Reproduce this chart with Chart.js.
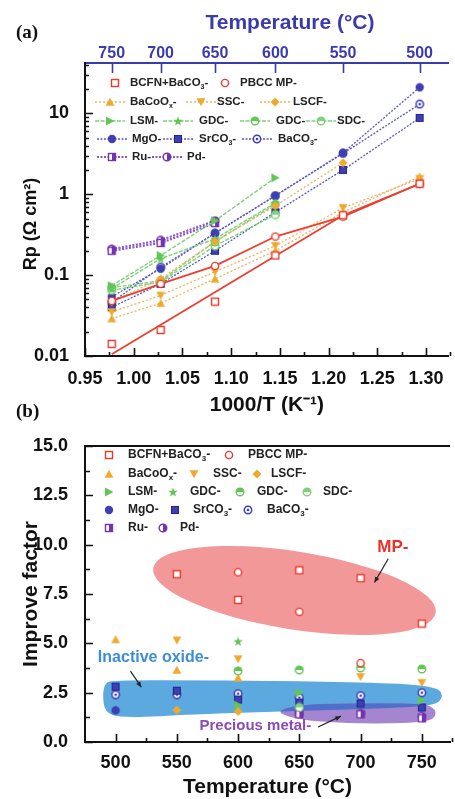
<!DOCTYPE html>
<html><head><meta charset="utf-8">
<script src="https://cdn.jsdelivr.net/npm/chart.js@4.4.0/dist/chart.umd.min.js"></script>
<style>
html,body{margin:0;padding:0;background:#fff;width:455px;height:799px;overflow:hidden;}
#wrap{position:relative;width:455px;height:799px;}
canvas{position:absolute;left:0;}
#ca{top:0;} #cb{top:420px;}
.lab{position:absolute;font-family:"Liberation Serif","DejaVu Serif",serif;font-weight:bold;font-size:19px;color:#111;}
</style></head><body>
<div id="wrap">
<canvas id="ca" width="455" height="420"></canvas>
<canvas id="cb" width="455" height="379"></canvas>
<div class="lab" style="left:16px;top:21px">(a)</div>
<div class="lab" style="left:16px;top:400px">(b)</div>
</div>
<script>
// ---------- DATA (a) : Rp vs 1000/T ----------
const tempC = [750, 700, 650, 600, 550, 500];
const invT  = [0.9774, 1.0276, 1.0834, 1.1453, 1.2148, 1.2934];
const xTickLabelsA = [0.95, 1.00, 1.05, 1.10, 1.15, 1.20, 1.25, 1.30];
const yTickLabelsA = [0.01, 0.1, 1, 10];

const rpBCFN   = [0.0141, 0.021, 0.047, 0.175, 0.55, 1.35];
const bcfnLineX = [0.9774, 1.2148, 1.2934];
const bcfnLineY = [0.0105, 0.55, 1.35];
const rpPBCC   = [0.048, 0.078, 0.13, 0.30, 0.53, 1.35];
const rpBaCoOx = [0.029, 0.045, 0.09, 0.20, 0.60, 1.65];
const rpSSC    = [0.035, 0.056, 0.11, 0.23, 0.68, 1.55];
const rpLSCF   = [0.047, 0.09, 0.26, 0.72, 2.45, null];
const rpLSM    = [0.074, 0.175, 0.47, 1.6, null, null];
const rpGDC1   = [0.068, 0.16, 0.28, 0.78, null, null];
const rpGDC2   = [0.070, 0.085, 0.26, 0.75, null, null];
const rpSDC    = [0.065, 0.082, 0.23, 0.56, null, null];
const rpMgO    = [0.054, 0.12, 0.33, 0.96, 3.25, 21];
const rpSrCO3  = [0.040, 0.078, 0.20, 0.60, 2.0, 8.8];
const rpBaCO3  = [0.046, 0.125, 0.33, 0.96, 3.2, 13];
const rpRu     = [0.20, 0.25, 0.44, null, null, null];
const rpPd     = [0.21, 0.27, 0.47, null, null, null];

// ---------- DATA (b) : Improve factor vs T ----------
const tempB = [500, 550, 600, 650, 700, 750];
const yTickLabelsB = [0, 2.5, 5, 7.5, 10, 12.5, 15];
const ifBCFN   = [null, 8.5, 7.2, 8.7, 8.3, 6.0];
const ifPBCC   = [null, null, 8.6, 6.6, 4.0, null];
const ifBaCoOx = [5.2, 3.65, 3.25, null, null, null];
const ifSSC    = [null, 5.15, 4.2, null, 3.3, 3.0];
const ifLSCF   = [null, 1.62, 1.55, null, null, null];
const ifLSM    = [null, null, 1.87, 2.5, null, 2.1];
const ifGDC1   = [null, null, 5.1, null, null, null];
const ifGDC2   = [null, null, 3.6, 3.65, 3.75, 3.7];
const ifSDC    = [null, null, null, 1.75, null, null];
const ifMgO    = [1.6, null, null, null, null, null];
const ifSrCO3  = [2.8, 2.6, 2.15, 2.0, 1.95, 1.75];
const ifBaCO3  = [2.4, 2.4, 2.45, 2.25, 2.35, 2.5];
const ifRu     = [null, null, null, 1.4, 1.4, 1.2];
const ifPd     = [null, null, null, 1.45, 1.45, 1.3];

// ---------- STYLE ----------
const FONT = '"Liberation Sans", Arial, Helvetica, sans-serif';
const BLUE_AX = '#3b3bae';
const RED = '#e8392b', OR = '#eeaa2e', GR = '#62c656', GR2 = '#7fd27a', BL = '#3e3eb5', PU = '#7434b0';

function mk(type, color) {
  const s = 10, c = document.createElement('canvas');
  c.width = s; c.height = s;
  const g = c.getContext('2d');
  g.fillStyle = color; g.strokeStyle = color; g.lineWidth = 1.4;
  const m = s / 2;
  const poly = pts => { g.beginPath(); g.moveTo(pts[0][0], pts[0][1]); pts.slice(1).forEach(p => g.lineTo(p[0], p[1])); g.closePath(); g.fill(); };
  switch (type) {
    case 'sqOpen': g.fillStyle = '#fff'; g.fillRect(1.5, 1.5, 7, 7); g.strokeRect(1.5, 1.5, 7, 7); break;
    case 'cirOpen': g.fillStyle = '#fff'; g.beginPath(); g.arc(m, m, 3.6, 0, 2 * Math.PI); g.fill(); g.stroke(); break;
    case 'triUp': poly([[5, 0.8], [9.4, 8.8], [0.6, 8.8]]); break;
    case 'triDown': poly([[0.6, 1.2], [9.4, 1.2], [5, 9.2]]); break;
    case 'diamond': poly([[5, 0.5], [9.5, 5], [5, 9.5], [0.5, 5]]); break;
    case 'triRight': poly([[1, 0.6], [9.4, 5], [1, 9.4]]); break;
    case 'star': {
      const pts = [];
      for (let i = 0; i < 10; i++) {
        const r = i % 2 ? 2.1 : 5, a = -Math.PI / 2 + i * Math.PI / 5;
        pts.push([m + r * Math.cos(a), m + 0.4 + r * Math.sin(a)]);
      }
      poly(pts); break;
    }
    case 'halfTop':
      g.fillStyle = '#fff'; g.beginPath(); g.arc(m, m, 3.8, 0, 2 * Math.PI); g.fill();
      g.fillStyle = color; g.beginPath(); g.arc(m, m, 3.8, Math.PI, 2 * Math.PI); g.closePath(); g.fill();
      g.beginPath(); g.arc(m, m, 3.8, 0, 2 * Math.PI); g.stroke(); break;
    case 'cirFill': g.beginPath(); g.arc(m, m, 4.2, 0, 2 * Math.PI); g.fill(); break;
    case 'sqFill': g.fillRect(1, 1, 8, 8); g.strokeStyle = '#25258a'; g.lineWidth = 1; g.strokeRect(1.5, 1.5, 7, 7); break;
    case 'cirDot':
      g.fillStyle = '#fff'; g.beginPath(); g.arc(m, m, 3.7, 0, 2 * Math.PI); g.fill(); g.lineWidth = 1.5; g.stroke();
      g.fillStyle = color; g.beginPath(); g.arc(m, m, 1.3, 0, 2 * Math.PI); g.fill(); break;
    case 'sqHalf':
      g.fillStyle = '#fff'; g.fillRect(1.5, 1.5, 7, 7); g.fillStyle = color; g.fillRect(5, 1.5, 3.5, 7); g.strokeRect(1.5, 1.5, 7, 7); break;
    case 'cirHalf':
      g.fillStyle = '#fff'; g.beginPath(); g.arc(m, m, 3.8, 0, 2 * Math.PI); g.fill();
      g.fillStyle = color; g.beginPath(); g.arc(m, m, 3.8, -Math.PI / 2, Math.PI / 2); g.closePath(); g.fill();
      g.beginPath(); g.arc(m, m, 3.8, 0, 2 * Math.PI); g.stroke(); break;
  }
  return c;
}
const MK = {
  bcfn: mk('sqOpen', RED), pbcc: mk('cirOpen', RED),
  bacoox: mk('triUp', OR), ssc: mk('triDown', OR), lscf: mk('diamond', OR),
  lsm: mk('triRight', GR), gdc1: mk('star', GR), gdc2: mk('halfTop', GR), sdc: mk('halfTop', GR2),
  mgo: mk('cirFill', BL), srco3: mk('sqFill', BL), baco3: mk('cirDot', BL),
  ru: mk('sqHalf', PU), pd: mk('cirHalf', PU)
};
const LN = {
  red: {c: '#ec3f2f', d: [], w: 1.8},
  or: {c: '#f3b060', d: [2, 2], w: 1.3},
  gr: {c: '#80d07a', d: [4, 1.5], w: 1.4},
  bl: {c: '#5656c6', d: [2, 1.5], w: 1.3},
  pu: {c: '#8a55c8', d: [2, 1.5], w: 2.2}
};

function dsA(vals, mkKey, ln, xs) {
  xs = xs || invT;
  return {
    data: xs.map((x, i) => ({x: x, y: vals[i]})),
    pointStyle: mkKey ? MK[mkKey] : false, pointRadius: mkKey ? 4 : 0,
    showLine: !!ln, borderColor: ln ? LN[ln].c : 'transparent', borderDash: ln ? LN[ln].d : [],
    borderWidth: ln ? LN[ln].w : 0, fill: false, tension: 0, spanGaps: false
  };
}
function dsB(vals, mkKey) {
  return {data: tempB.map((x, i) => ({x: x, y: vals[i]})), pointStyle: MK[mkKey], pointRadius: 4, showLine: false};
}

function richText(ctx, str, x, y, size, color) {
  ctx.fillStyle = color || '#222'; ctx.textBaseline = 'middle'; ctx.textAlign = 'left';
  let cx = x;
  str.split(/(_.)/).forEach(p => {
    if (!p) return;
    if (p[0] === '_') {
      ctx.font = `bold ${Math.round(size * 0.65)}px ${FONT}`;
      ctx.fillText(p[1], cx, y + size * 0.32); cx += ctx.measureText(p[1]).width;
    } else {
      ctx.font = `bold ${size}px ${FONT}`;
      ctx.fillText(p, cx, y); cx += ctx.measureText(p).width;
    }
  });
}
function drawLegend(ctx, items, rows, size, lineHalf) {
  items.forEach(it => {
    const y = rows[it.r];
    if (it.ln) {
      const L = LN[it.ln];
      ctx.save(); ctx.strokeStyle = L.c; ctx.lineWidth = L.w; ctx.setLineDash(L.d);
      ctx.beginPath(); ctx.moveTo(it.mx - lineHalf, y); ctx.lineTo(it.mx + lineHalf, y); ctx.stroke(); ctx.restore();
    }
    const img = MK[it.m];
    ctx.drawImage(img, it.mx - img.width / 2, y - img.height / 2);
    richText(ctx, it.t, it.tx, y, size);
  });
}
function inTicks(chart, id, values, len, color) {
  const s = chart.scales[id], a = chart.chartArea, ctx = chart.ctx;
  ctx.save(); ctx.strokeStyle = color; ctx.lineWidth = 1.6; ctx.beginPath();
  values.forEach(v => {
    const p = Math.round(s.getPixelForValue(v)) + 0.5;
    if (s.axis === 'x') {
      if (s.position === 'top') { ctx.moveTo(p, a.top); ctx.lineTo(p, a.top + len); }
      else { ctx.moveTo(p, a.bottom); ctx.lineTo(p, a.bottom - len); }
    } else { ctx.moveTo(a.left, p); ctx.lineTo(a.left + len, p); }
  });
  ctx.stroke(); ctx.restore();
}

// ---------- CHART (a) ----------
const xMinorA = []; for (let v = 0.975; v < 1.33; v += 0.05) xMinorA.push(+v.toFixed(3));
const yMinorA = []; [0.01, 0.1, 1, 10].forEach(d => { for (let k = 2; k <= 9; k++) if (d * k < 42) yMinorA.push(d * k); });

const legA = [
  {t: 'BCFN+BaCO_3-', m: 'bcfn', mx: 115, tx: 130, r: 0},
  {t: 'PBCC MP-', m: 'pbcc', mx: 225, tx: 240, r: 0},
  {t: 'BaCoO_x-', m: 'bacoox', ln: 'or', mx: 110, tx: 130, r: 1},
  {t: 'SSC-', m: 'ssc', ln: 'or', mx: 201, tx: 217, r: 1},
  {t: 'LSCF-', m: 'lscf', ln: 'or', mx: 275, tx: 293, r: 1},
  {t: 'LSM-', m: 'lsm', ln: 'gr', mx: 110, tx: 130, r: 2},
  {t: 'GDC-', m: 'gdc1', ln: 'gr', mx: 178, tx: 199, r: 2},
  {t: 'GDC-', m: 'gdc2', ln: 'gr', mx: 255, tx: 276, r: 2},
  {t: 'SDC-', m: 'sdc', ln: 'gr', mx: 321, tx: 337, r: 2},
  {t: 'MgO-', m: 'mgo', ln: 'bl', mx: 112, tx: 132, r: 3},
  {t: 'SrCO_3-', m: 'srco3', ln: 'bl', mx: 178, tx: 199, r: 3},
  {t: 'BaCO_3-', m: 'baco3', ln: 'bl', mx: 257, tx: 278, r: 3},
  {t: 'Ru-', m: 'ru', ln: 'pu', mx: 112, tx: 132, r: 4},
  {t: 'Pd-', m: 'pd', ln: 'pu', mx: 167, tx: 187, r: 4}
];
const rowsA = [83, 102, 121, 139, 157];

const plugA = {
  id: 'plugA',
  afterDraw(chart) {
    const ctx = chart.ctx;
    inTicks(chart, 'x', xTickLabelsA, 8, '#111');
    inTicks(chart, 'x', xMinorA, 4, '#111');
    inTicks(chart, 'y', yTickLabelsA, 8, '#111');
    inTicks(chart, 'y', yMinorA, 4, '#111');
    inTicks(chart, 'x2', invT, 10, BLUE_AX);
    ctx.save();
    ctx.fillStyle = BLUE_AX; ctx.font = `bold 21px ${FONT}`; ctx.textAlign = 'center'; ctx.textBaseline = 'middle';
    ctx.fillText('Temperature (°C)', 290, 23);
    ctx.fillStyle = '#111'; ctx.font = `bold 18px ${FONT}`;
    ctx.translate(31, 224); ctx.rotate(-Math.PI / 2); ctx.fillText('Rp (Ω cm²)', 0, 0);
    ctx.restore();
    drawLegend(ctx, legA, rowsA, 11.5, 15);
  }
};

const fontTick = s => ({family: FONT, weight: 'bold', size: s});
new Chart(document.getElementById('ca'), {
  type: 'line',
  data: {datasets: [
    dsA(rpBCFN, 'bcfn', null),
    dsA(bcfnLineY, null, 'red', bcfnLineX),
    dsA(rpPBCC, 'pbcc', 'red'),
    dsA(rpBaCoOx, 'bacoox', 'or'),
    dsA(rpSSC, 'ssc', 'or'),
    dsA(rpLSCF, 'lscf', 'or'),
    dsA(rpLSM, 'lsm', 'gr'),
    dsA(rpGDC1, 'gdc1', 'gr'),
    dsA(rpGDC2, 'gdc2', 'gr'),
    dsA(rpSDC, 'sdc', 'gr'),
    dsA(rpMgO, 'mgo', 'bl'),
    dsA(rpSrCO3, 'srco3', 'bl'),
    dsA(rpBaCO3, 'baco3', 'bl'),
    dsA(rpRu, 'ru', 'pu'),
    dsA(rpPd, 'pd', 'pu')
  ]},
  options: {
    responsive: false, animation: false, events: [],
    layout: {padding: 0},
    plugins: {legend: {display: false}, tooltip: {enabled: false}},
    scales: {
      x: {type: 'linear', position: 'bottom', min: 0.95, max: 1.3233,
        grid: {display: false}, border: {display: true, color: '#111', width: 2},
        afterFit: s => { s.height = 64; },
        afterBuildTicks: s => { s.ticks = xTickLabelsA.map(v => ({value: v})); },
        ticks: {autoSkip: false, maxRotation: 0, padding: 4, color: '#111', font: fontTick(18), callback: v => v.toFixed(2)},
        title: {display: true, text: '1000/T (K⁻¹)', color: '#111', font: fontTick(21), padding: {top: 0, bottom: 2}}},
      x2: {type: 'linear', position: 'top', min: 0.95, max: 1.3233,
        grid: {display: false}, border: {display: true, color: BLUE_AX, width: 2},
        afterFit: s => { s.height = 63; },
        afterBuildTicks: s => { s.ticks = invT.map(v => ({value: v})); },
        ticks: {autoSkip: false, maxRotation: 0, padding: -8, color: BLUE_AX, font: fontTick(16), callback: (v, i) => String(tempC[i])}},
      y: {type: 'logarithmic', min: 0.01, max: 42,
        grid: {display: false}, border: {display: true, color: '#111', width: 2},
        afterFit: s => { s.width = 85; },
        afterBuildTicks: s => { s.ticks = yTickLabelsA.map(v => ({value: v})); },
        ticks: {autoSkip: false, padding: 8, color: '#111', font: fontTick(18), callback: v => String(v)}}
    }
  },
  plugins: [plugA]
});

// ---------- CHART (b) ----------
const xMajorB = [500, 550, 600, 650, 700, 750];
const xMinorB = [525, 575, 625, 675, 725, 775];
const yMinorB = [1.25, 3.75, 6.25, 8.75, 11.25, 13.75];

const legB = [
  {t: 'BCFN+BaCO_3-', m: 'bcfn', mx: 109, tx: 128, r: 0},
  {t: 'PBCC MP-', m: 'pbcc', mx: 229, tx: 248, r: 0},
  {t: 'BaCoO_x-', m: 'bacoox', mx: 109, tx: 128, r: 1},
  {t: 'SSC-', m: 'ssc', mx: 194, tx: 213, r: 1},
  {t: 'LSCF-', m: 'lscf', mx: 257, tx: 271, r: 1},
  {t: 'LSM-', m: 'lsm', mx: 109, tx: 128, r: 2},
  {t: 'GDC-', m: 'gdc1', mx: 173, tx: 190, r: 2},
  {t: 'GDC-', m: 'gdc2', mx: 240, tx: 257, r: 2},
  {t: 'SDC-', m: 'sdc', mx: 307, tx: 323, r: 2},
  {t: 'MgO-', m: 'mgo', mx: 109, tx: 128, r: 3},
  {t: 'SrCO_3-', m: 'srco3', mx: 175, tx: 193, r: 3},
  {t: 'BaCO_3-', m: 'baco3', mx: 248, tx: 267, r: 3},
  {t: 'Ru-', m: 'ru', mx: 109, tx: 128, r: 4},
  {t: 'Pd-', m: 'pd', mx: 163, tx: 180, r: 4}
];
const rowsB = [35, 54, 72, 90, 108];

// annotation regions, in data units (T, factor)
const blueRegion = [[496,3.13],[568.5,3.13],[649,3.08],[730,2.98],[762,2.78],[767.7,2.37],[762,1.87],[730,1.72],[649,1.57],[568.5,1.41],[504,1.21],[491,1.52],[489.5,2.37],[491,2.93]];
const purpleRegion = [[631.5,1.57],[649,1.87],[689.5,1.97],[746,1.97],[759.7,1.77],[762,1.36],[755.6,1.01],[713.7,0.91],[665.3,1.01],[641,1.26]];
const redEllipse = {t: 646, v: 7.68, rx: 143, ry: 39, rot: 9};

function smoothPath(ctx, pts) {
  const n = pts.length;
  const mid = (a, b) => [(a[0] + b[0]) / 2, (a[1] + b[1]) / 2];
  let m0 = mid(pts[n - 1], pts[0]);
  ctx.beginPath(); ctx.moveTo(m0[0], m0[1]);
  for (let i = 0; i < n; i++) {
    const p = pts[i], m = mid(p, pts[(i + 1) % n]);
    ctx.quadraticCurveTo(p[0], p[1], m[0], m[1]);
  }
  ctx.closePath();
}
function arrow(ctx, x1, y1, x2, y2) {
  ctx.save(); ctx.strokeStyle = '#222'; ctx.fillStyle = '#222'; ctx.lineWidth = 1.2;
  ctx.beginPath(); ctx.moveTo(x1, y1); ctx.lineTo(x2, y2); ctx.stroke();
  const a = Math.atan2(y2 - y1, x2 - x1), L = 6;
  ctx.beginPath(); ctx.moveTo(x2, y2);
  ctx.lineTo(x2 - L * Math.cos(a - 0.4), y2 - L * Math.sin(a - 0.4));
  ctx.lineTo(x2 - L * Math.cos(a + 0.4), y2 - L * Math.sin(a + 0.4));
  ctx.closePath(); ctx.fill(); ctx.restore();
}

const plugB = {
  id: 'plugB',
  beforeDatasetsDraw(chart) {
    const ctx = chart.ctx, sx = chart.scales.x, sy = chart.scales.y;
    const P = p => [sx.getPixelForValue(p[0]), sy.getPixelForValue(p[1])];
    ctx.save();
    ctx.fillStyle = 'rgba(236,88,88,0.62)';
    ctx.beginPath();
    ctx.ellipse(sx.getPixelForValue(redEllipse.t), sy.getPixelForValue(redEllipse.v), redEllipse.rx, redEllipse.ry, redEllipse.rot * Math.PI / 180, 0, 2 * Math.PI);
    ctx.fill();
    const bp = blueRegion.map(P), pp = purpleRegion.map(P);
    ctx.fillStyle = '#5ba9df'; smoothPath(ctx, bp); ctx.fill();
    ctx.fillStyle = '#a585cf'; smoothPath(ctx, pp); ctx.fill();
    ctx.save(); smoothPath(ctx, bp); ctx.clip();
    ctx.fillStyle = '#4f6fca'; smoothPath(ctx, pp); ctx.fill(); ctx.restore();
    const txt = (s, p, color, size) => { const q = P(p); ctx.fillStyle = color; ctx.font = `bold ${size}px ${FONT}`; ctx.textAlign = 'left'; ctx.textBaseline = 'middle'; ctx.fillText(s, q[0], q[1]); };
    txt('MP-', [713.7, 9.85], '#e8322a', 17);
    txt('Inactive oxide-', [485.5, 4.29], '#3d8ed6', 16);
    txt('Precious metal-', [568.5, 0.81], '#8a4bb5', 15);
    const ar = (a, b) => { const p = P(a), q = P(b); arrow(ctx, p[0], p[1], q[0], q[1]); };
    ar([722.6, 9.29], [711.3, 8.08]);
    ar([512.1, 3.59], [521, 2.78]);
    ar([665.3, 0.76], [683.9, 1.31]);
    ctx.restore();
  },
  afterDraw(chart) {
    const ctx = chart.ctx, a = chart.chartArea;
    inTicks(chart, 'x', xMajorB, 8, '#111');
    inTicks(chart, 'x', xMinorB, 4, '#111');
    inTicks(chart, 'y', yTickLabelsB, 8, '#111');
    inTicks(chart, 'y', yMinorB, 5, '#111');
    ctx.save(); ctx.strokeStyle = '#111'; ctx.lineWidth = 2;
    ctx.beginPath(); ctx.moveTo(a.left - 1, a.top); ctx.lineTo(a.right, a.top); ctx.stroke(); ctx.restore();
    drawLegend(ctx, legB, rowsB, 12, 0);
  }
};

new Chart(document.getElementById('cb'), {
  type: 'scatter',
  data: {datasets: [
    dsB(ifBCFN, 'bcfn'), dsB(ifPBCC, 'pbcc'),
    dsB(ifBaCoOx, 'bacoox'), dsB(ifSSC, 'ssc'), dsB(ifLSCF, 'lscf'),
    dsB(ifLSM, 'lsm'), dsB(ifGDC1, 'gdc1'), dsB(ifGDC2, 'gdc2'), dsB(ifSDC, 'sdc'),
    dsB(ifMgO, 'mgo'), dsB(ifSrCO3, 'srco3'), dsB(ifBaCO3, 'baco3'),
    dsB(ifRu, 'ru'), dsB(ifPd, 'pd')
  ]},
  options: {
    responsive: false, animation: false, events: [],
    layout: {padding: {top: 26, left: 0, right: 0, bottom: 0}},
    plugins: {legend: {display: false}, tooltip: {enabled: false}},
    scales: {
      x: {type: 'linear', position: 'bottom', min: 475, max: 773,
        grid: {display: false}, border: {display: true, color: '#111', width: 2},
        afterFit: s => { s.height = 57; },
        afterBuildTicks: s => { s.ticks = xMajorB.map(v => ({value: v})); },
        ticks: {autoSkip: false, maxRotation: 0, padding: 2, color: '#111', font: fontTick(18), callback: v => String(v)},
        title: {display: true, text: 'Temperature (°C)', color: '#111', font: fontTick(21), padding: {top: 0, bottom: -1}}},
      y: {type: 'linear', min: 0, max: 15,
        grid: {display: false}, border: {display: true, color: '#111', width: 2},
        afterFit: s => { s.width = 85; },
        afterBuildTicks: s => { s.ticks = yTickLabelsB.map(v => ({value: v})); },
        ticks: {autoSkip: false, padding: 9, color: '#111', font: fontTick(18), callback: v => v.toFixed(1)},
        title: {display: true, text: 'Improve factor', color: '#111', font: fontTick(21), padding: {top: 19, bottom: 0}}}
    }
  },
  plugins: [plugB]
});
</script>
</body></html>
